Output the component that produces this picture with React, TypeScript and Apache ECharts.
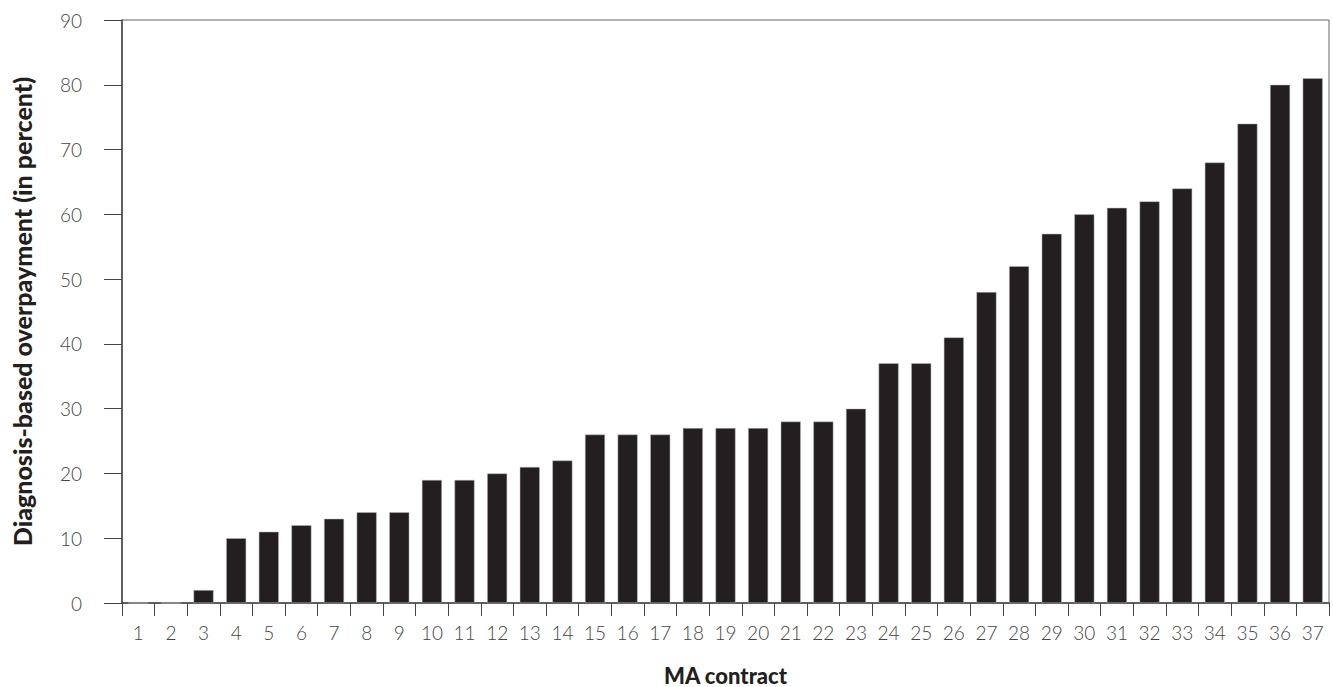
import React, { useEffect, useRef } from "react";
import * as echarts from "echarts";

const categories = Array.from({ length: 37 }, (_, i) => String(i + 1));
const overpayment = [0, 0, 2, 10, 11, 12, 13, 14, 14, 19, 19, 20, 21, 22, 26, 26, 26, 27, 27, 27, 28, 28, 30, 37, 37, 41, 48, 52, 57, 60, 61, 62, 64, 68, 74, 80, 81];

export default function App() {
  const ref = useRef<HTMLDivElement>(null);
  useEffect(() => {
    const chart = echarts.init(ref.current!, null, { renderer: "svg" });
    chart.setOption({
      animation: false,
      grid: {
        left: 122, right: 4, top: 20, bottom: 84,
        show: true, borderColor: "#666", borderWidth: 1,
        containLabel: false, outerBoundsMode: "none",
      },
      xAxis: {
        type: "category",
        data: categories,
        name: "MA contract",
        nameLocation: "middle",
        nameGap: 62,
        nameMoveOverlap: false,
        nameTextStyle: { fontFamily: "Lato", fontWeight: 900, fontSize: 22, lineHeight: 20, color: "#231f20" },
        axisLine: { lineStyle: { color: "#444", width: 1.5 } },
        axisTick: { show: true, alignWithLabel: false, length: 13, lineStyle: { color: "#444" } },
        axisLabel: { margin: 20, fontFamily: "Lato", fontWeight: 300, fontSize: 19, color: "#444" },
      },
      yAxis: {
        type: "value",
        min: 0,
        max: 90,
        interval: 10,
        name: "Diagnosis-based overpayment (in percent)",
        nameLocation: "middle",
        nameGap: 88,
        nameMoveOverlap: false,
        nameTextStyle: { fontFamily: "Lato", fontWeight: 900, fontSize: 25, color: "#231f20" },
        splitLine: { show: false },
        axisLine: { show: true, lineStyle: { color: "#444", width: 1.5 } },
        axisTick: { show: true, length: 18, lineStyle: { color: "#444" } },
        axisLabel: { margin: 40, fontFamily: "Lato", fontWeight: 300, fontSize: 19, color: "#444" },
      },
      series: [
        {
          type: "bar",
          data: overpayment,
          barWidth: 20,
          itemStyle: { color: "#231f20", borderColor: "#bbb", borderWidth: 0.5 },
        },
      ],
    });
    return () => chart.dispose();
  }, []);
  return <div ref={ref} style={{ width: 1333, height: 687, position: "absolute", left: 0, top: 0 }} />;
}
